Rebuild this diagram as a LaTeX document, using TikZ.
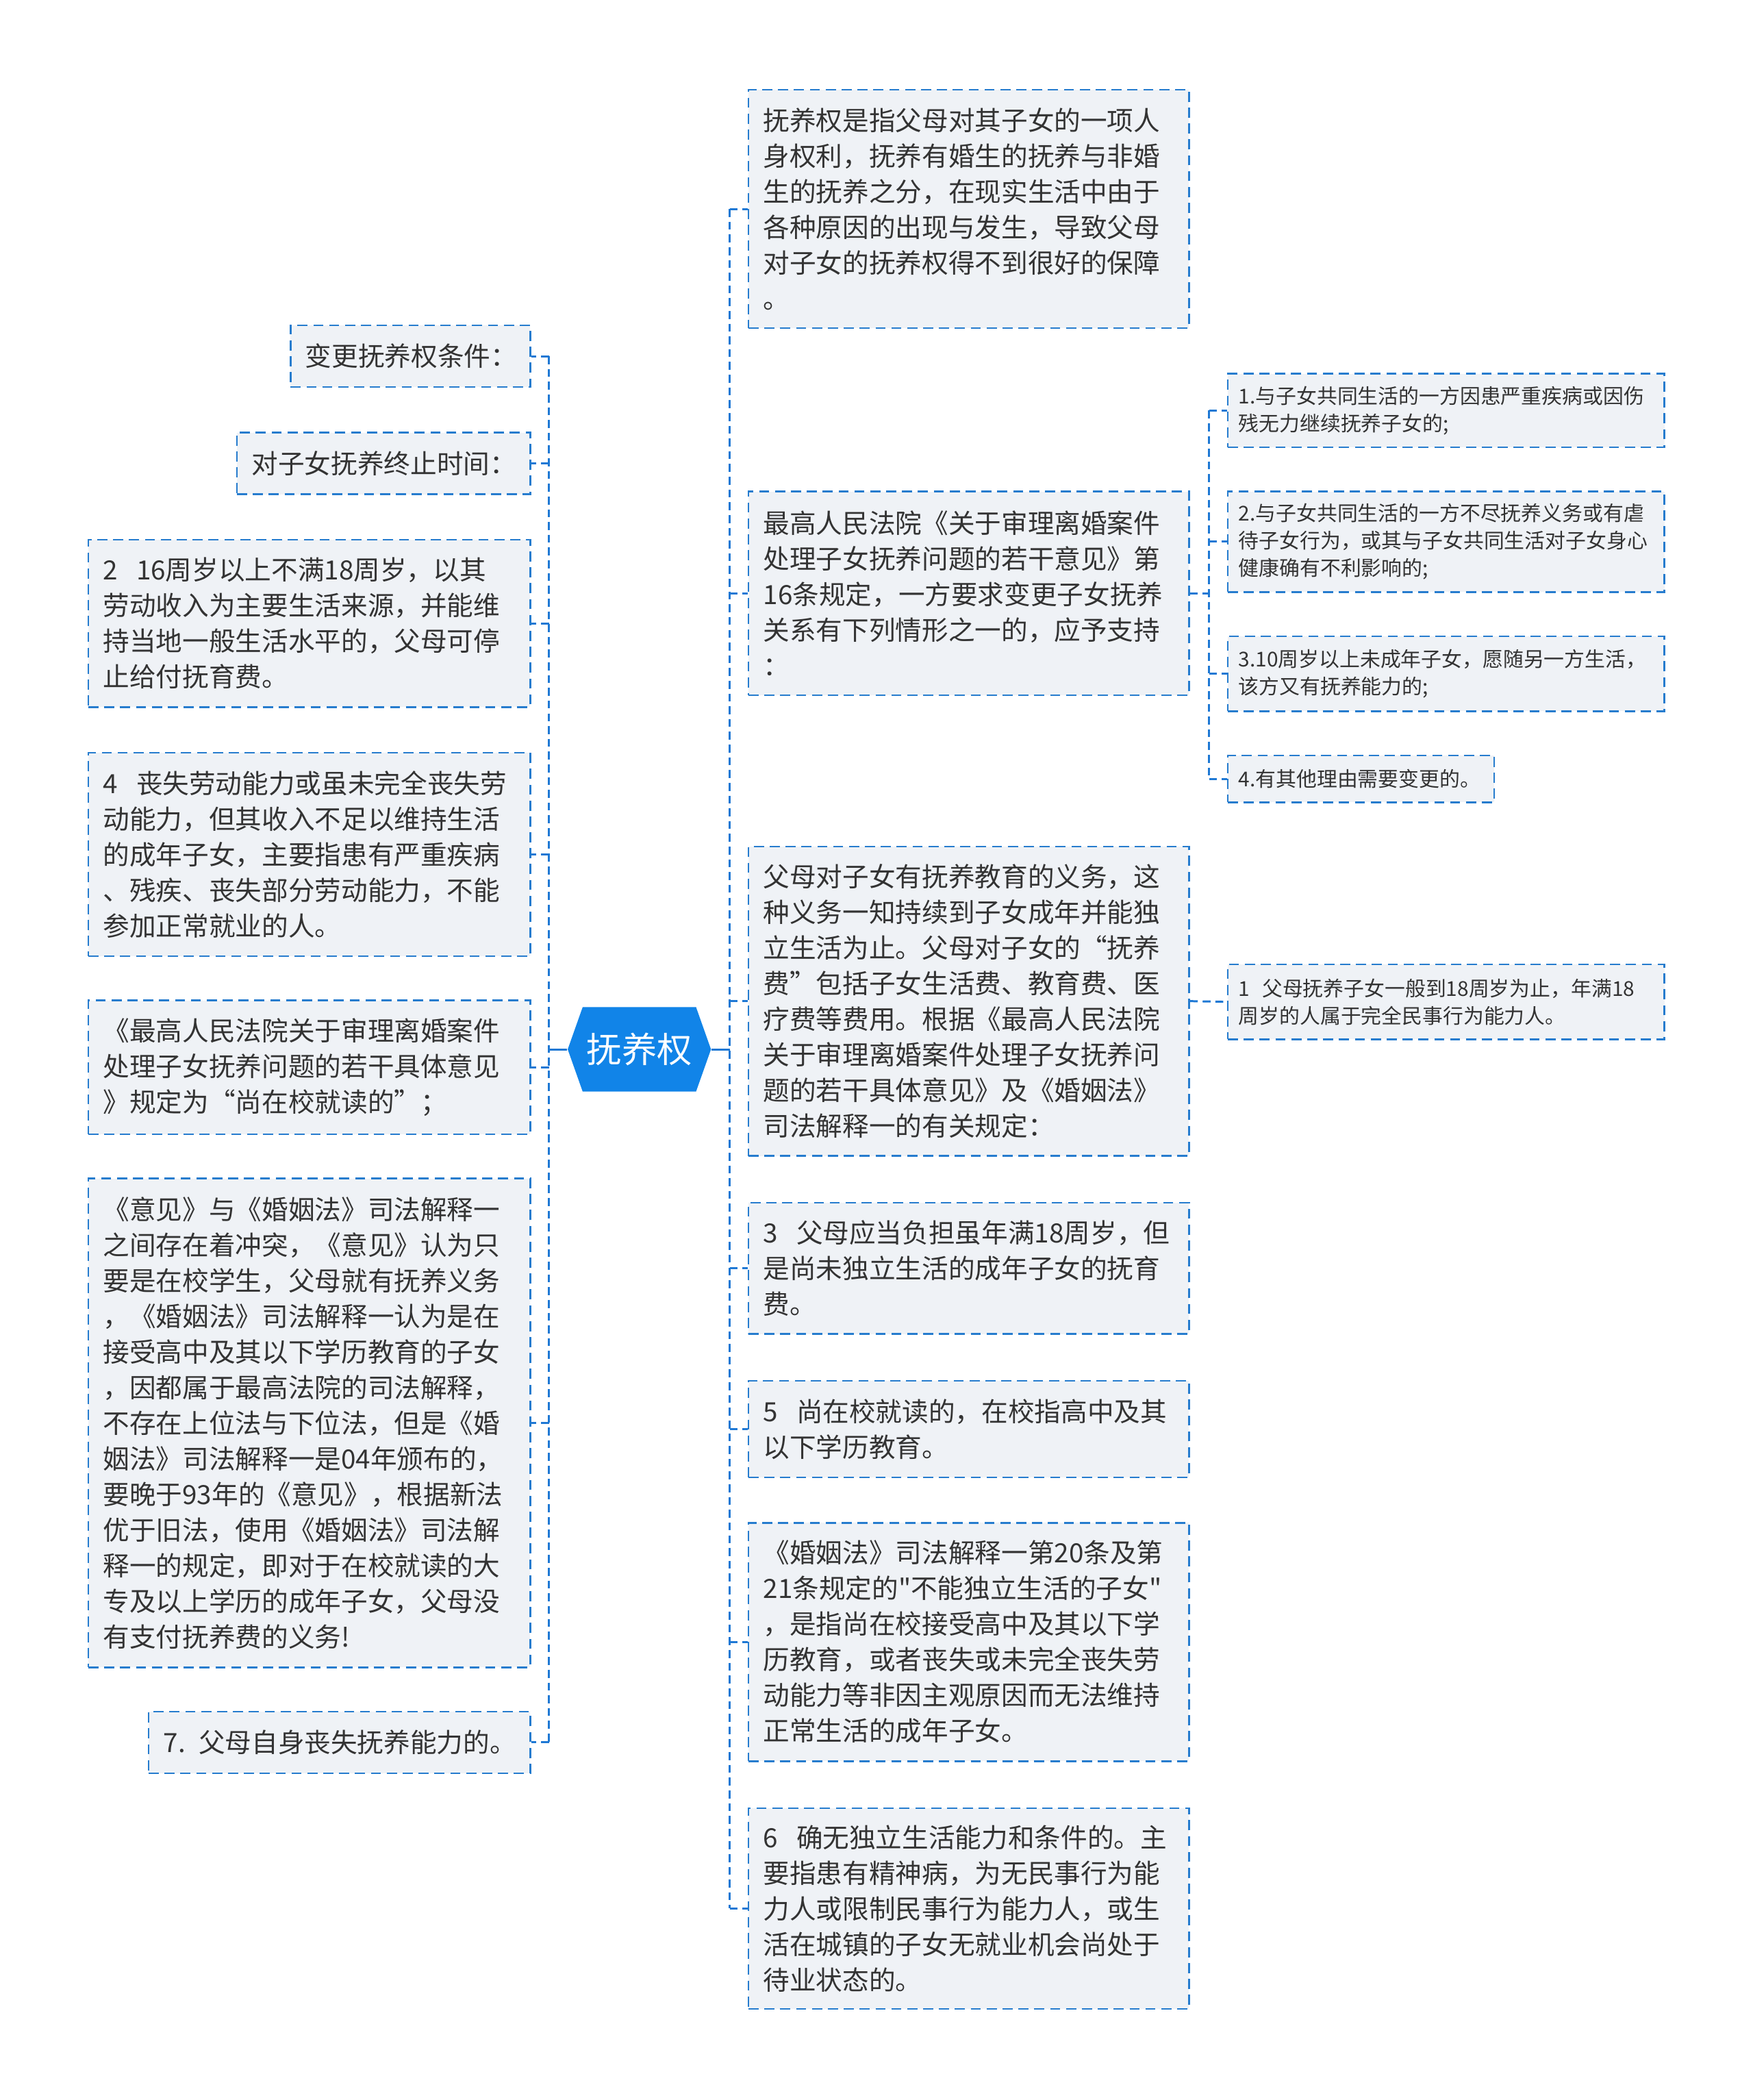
\documentclass[tikz,border=0pt]{standalone}
\usepackage{fontspec}
\setmainfont{Noto Sans CJK SC}[Ligatures=TeXOff]
\usetikzlibrary{shapes.symbols}
\newdimen\upx \upx=0.019557cm
\definecolor{lnblue}{RGB}{30,120,212}
\definecolor{bdblue}{RGB}{38,124,206}
\definecolor{boxfill}{RGB}{239,242,246}
\definecolor{txtc}{RGB}{51,51,51}
\definecolor{hexblue}{RGB}{17,132,232}
\tikzset{
  boxst/.style={draw=bdblue, fill=boxfill, line width=0.72pt, dash pattern=on 4.2pt off 2.4pt,
    text=txtc, align=left, inner xsep=11\upx, inner ysep=0pt, font=\fontsize{11}{14.8}\selectfont},
  smallbox/.style={boxst, inner xsep=8\upx, font=\fontsize{8.5}{11.4}\selectfont},
  conn/.style={draw=lnblue, line width=0.85pt, dash pattern=on 3.3pt off 2pt},
  rootconn/.style={draw=lnblue, line width=0.85pt},
  rootst/.style={signal, signal to=east and west, signal pointer angle=141, fill=hexblue,
    text=white, minimum width=107\upx, minimum height=63\upx, inner sep=0pt,
    font=\fontsize{14.6}{16}\selectfont}
}
\newcommand\mkbox[8]{% style, pad, name, x1, y1, x2, y2, text
  \pgfmathsetlengthmacro\mybw{(#6-#4)*\upx}%
  \pgfmathsetlengthmacro\mybh{(#7-#5)*\upx}%
  \pgfmathsetlengthmacro\mytw{(#6-#4-2*#2)*\upx}%
  \node[#1, minimum width=\mybw, minimum height=\mybh, text width=\mytw] (#3) at ({(#4+#6)/2},{(#5+#7)/2}) {#8};}
\newcommand\bx[6]{\mkbox{boxst}{11}{#1}{#2}{#3}{#4}{#5}{#6}}
\newcommand\sbx[6]{\mkbox{smallbox}{8}{#1}{#2}{#3}{#4}{#5}{#6}}
\begin{document}
\begin{tikzpicture}[x=0.019557cm, y=-0.019557cm]
\fill[white] (0,0) rectangle (1309,1568);
\useasboundingbox (0,0) rectangle (1309,1568);

% root
\node[rootst] (root) at (477.5,783.5) {抚养权};
\coordinate (rsp) at (545,783.5);
\coordinate (lsp) at (410,783.5);
\coordinate (gsp) at (903,443);

% right column
\bx{R1}{559}{67}{888}{245}{抚养权是指父母对其子女的一项人\\身权利，抚养有婚生的抚养与非婚\\生的抚养之分，在现实生活中由于\\各种原因的出现与发生，导致父母\\对子女的抚养权得不到很好的保障\\。}
\bx{R2}{559}{367}{888}{519}{最高人民法院《关于审理离婚案件\\处理子女抚养问题的若干意见》第\\16条规定，一方要求变更子女抚养\\关系有下列情形之一的，应予支持\\：}
\bx{R3}{559}{632}{888}{863}{父母对子女有抚养教育的义务，这\\种义务一知持续到子女成年并能独\\立生活为止。父母对子女的“抚养\\费”包括子女生活费、教育费、医\\疗费等费用。根据《最高人民法院\\关于审理离婚案件处理子女抚养问\\题的若干具体意见》及《婚姻法》\\司法解释一的有关规定：}
\bx{R4}{559}{898}{888}{996}{3\kern0.7em 父母应当负担虽年满18周岁，但\\是尚未独立生活的成年子女的抚育\\费。}
\bx{R5}{559}{1031}{888}{1103}{5\kern0.7em 尚在校就读的，在校指高中及其\\以下学历教育。}
\bx{R6}{559}{1137}{888}{1315}{《婚姻法》司法解释一第20条及第\\21条规定的"不能独立生活的子女"\\，是指尚在校接受高中及其以下学\\历教育，或者丧失或未完全丧失劳\\动能力等非因主观原因而无法维持\\正常生活的成年子女。}
\bx{R7}{559}{1350}{888}{1500}{6\kern0.7em 确无独立生活能力和条件的。主\\要指患有精神病，为无民事行为能\\力人或限制民事行为能力人，或生\\活在城镇的子女无就业机会尚处于\\待业状态的。}

% grandchildren
\sbx{G1}{917}{279}{1243}{334}{1.与子女共同生活的一方因患严重疾病或因伤\\残无力继续抚养子女的;}
\sbx{G2}{917}{367}{1243}{442}{2.与子女共同生活的一方不尽抚养义务或有虐\\待子女行为，或其与子女共同生活对子女身心\\健康确有不利影响的;}
\sbx{G3}{917}{475}{1243}{531}{3.10周岁以上未成年子女，愿随另一方生活，\\该方又有抚养能力的;}
\sbx{G4}{917}{564}{1116}{599}{4.有其他理由需要变更的。}
\sbx{G5}{917}{720}{1243}{776}{1\kern0.6em 父母抚养子女一般到18周岁为止，年满18\\周岁的人属于完全民事行为能力人。}

% left column
\bx{L1}{217}{243}{396}{289}{变更抚养权条件：}
\bx{L2}{177}{323}{396}{369}{对子女抚养终止时间：}
\bx{L3}{66}{403}{396}{528}{2\kern0.7em 16周岁以上不满18周岁，以其\\劳动收入为主要生活来源，并能维\\持当地一般生活水平的，父母可停\\止给付抚育费。}
\bx{L4}{66}{562}{396}{714}{4\kern0.7em 丧失劳动能力或虽未完全丧失劳\\动能力，但其收入不足以维持生活\\的成年子女，主要指患有严重疾病\\、残疾、丧失部分劳动能力，不能\\参加正常就业的人。}
\bx{L5}{66}{747}{396}{847}{《最高人民法院关于审理离婚案件\\处理子女抚养问题的若干具体意见\\》规定为“尚在校就读的”；}
\bx{L6}{66}{880}{396}{1245}{《意见》与《婚姻法》司法解释一\\之间存在着冲突，《意见》认为只\\要是在校学生，父母就有抚养义务\\，《婚姻法》司法解释一认为是在\\接受高中及其以下学历教育的子女\\，因都属于最高法院的司法解释，\\不存在上位法与下位法，但是《婚\\姻法》司法解释一是04年颁布的，\\要晚于93年的《意见》，根据新法\\优于旧法，使用《婚姻法》司法解\\释一的规定，即对于在校就读的大\\专及以上学历的成年子女，父母没\\有支付抚养费的义务!}
\bx{L7}{111}{1278}{396}{1324}{7.\kern0.5em 父母自身丧失抚养能力的。}

% root links
\draw[rootconn] (root.east) -- (rsp);
\draw[rootconn] (root.west) -- (lsp);

% right spine and stubs
\draw[conn] (R1.west -| rsp) -- (R7.west -| rsp);
\foreach \n in {R1,R2,R3,R4,R5,R6,R7} { \draw[conn] (\n.west -| rsp) -- (\n.west); }

% left spine and stubs
\draw[conn] (L1.east -| lsp) -- (L7.east -| lsp);
\foreach \n in {L1,L2,L3,L4,L5,L6,L7} { \draw[conn] (\n.east -| lsp) -- (\n.east); }

% R2 children
\draw[conn] (R2.east) -- (gsp);
\draw[conn] (G1.west -| gsp) -- (G4.west -| gsp);
\foreach \n in {G1,G2,G3,G4} { \draw[conn] (\n.west -| gsp) -- (\n.west); }

% R3 child
\draw[conn] (R3.east) -- (G5.west);
\end{tikzpicture}
\end{document}
